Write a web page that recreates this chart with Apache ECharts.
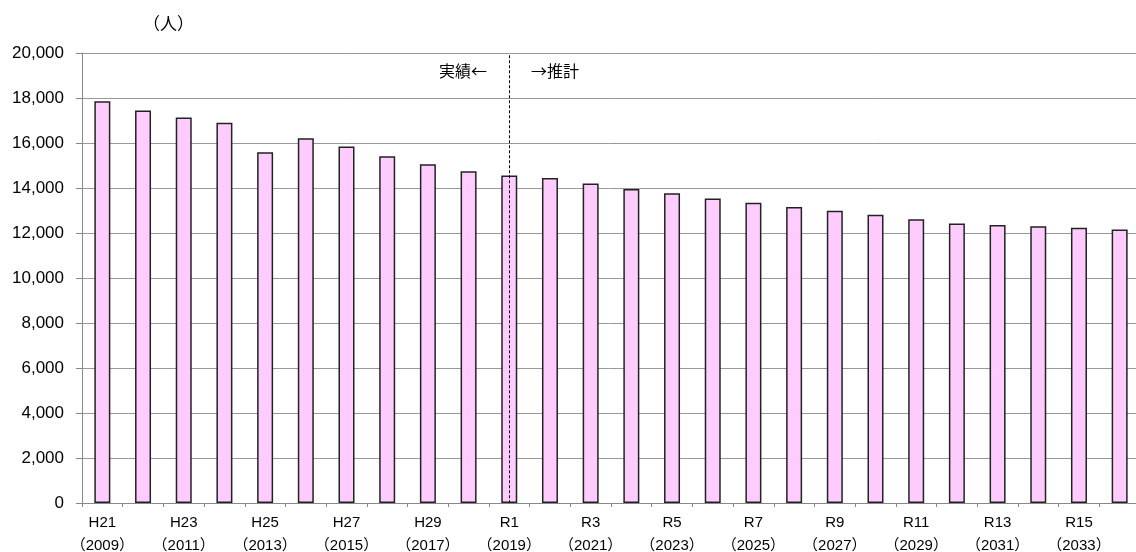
<!DOCTYPE html>
<html>
<head>
<meta charset="utf-8">
<script src="https://cdn.jsdelivr.net/npm/echarts@6/dist/echarts.min.js"></script>
<style>
  html, body { margin: 0; padding: 0; background: #fff; }
  #chart { width: 1136px; height: 552px; }
</style>
</head>
<body>
<div id="chart"></div>
<script>
// Era labels (Heisei / Reiwa) and Western years, one per bar
const eraLabels = ['H21','H22','H23','H24','H25','H26','H27','H28','H29','H30',
                   'R1','R2','R3','R4','R5','R6','R7','R8','R9','R10',
                   'R11','R12','R13','R14','R15','R16'];
const years = [2009,2010,2011,2012,2013,2014,2015,2016,2017,2018,
               2019,2020,2021,2022,2023,2024,2025,2026,2027,2028,
               2029,2030,2031,2032,2033,2034];
// Population (persons): actual up to 2019, projected afterwards
const population = [17860,17440,17130,16900,15590,16210,15840,15410,15060,14750,
                    14560,14450,14200,13960,13770,13530,13340,13160,12990,12810,
                    12610,12420,12360,12300,12230,12160];
// Y axis scale
const yMin = 0, yMax = 20000, yStep = 2000;
// Boundary between actual and projected values
const splitCategory = 'R1';
const unitLabel = '（人）';
const actualText = '実績←';
const projectedText = '→推計';

const categories = eraLabels.map((e, i) => e + '\n（' + years[i] + '）');
const splitCat = categories[eraLabels.indexOf(splitCategory)];

const FONT = '"Liberation Sans", "Noto Sans CJK JP", sans-serif';
const CJK = '"Noto Sans CJK JP", sans-serif';

const chart = echarts.init(document.getElementById('chart'), null, { renderer: 'canvas' });
chart.setOption({
  animation: false,
  backgroundColor: '#ffffff',
  title: {
    text: unitLabel,
    left: 138,
    top: 10,
    textStyle: { fontFamily: CJK, fontSize: 17, fontWeight: 'normal', color: '#000' }
  },
  // plot area runs slightly past the right edge of the canvas
  grid: { left: 82, top: 53, width: 1058, height: 450, containLabel: false, outerBoundsMode: 'none' },
  xAxis: {
    type: 'category',
    data: categories,
    boundaryGap: true,
    axisLine: { show: true, lineStyle: { color: '#888', width: 1 } },
    axisTick: { show: true, alignWithLabel: false, interval: 0, length: 4, lineStyle: { color: '#888' } },
    axisLabel: {
      interval: 1,
      margin: 8,
      fontFamily: FONT,
      fontSize: 15,
      lineHeight: 23,
      color: '#000'
    }
  },
  yAxis: {
    type: 'value',
    min: yMin,
    max: yMax,
    interval: yStep,
    axisLine: { show: true, lineStyle: { color: '#888', width: 1 } },
    axisTick: { show: true, length: 6, lineStyle: { color: '#888' } },
    axisLabel: {
      margin: 18,
      fontFamily: FONT,
      fontSize: 17,
      color: '#000',
      formatter: v => v.toLocaleString('en-US')
    },
    splitLine: { show: true, lineStyle: { color: '#999', width: 1 } }
  },
  series: [{
    type: 'bar',
    data: population,
    barWidth: 16,
    itemStyle: { color: '#FFCCFF', borderColor: '#222', borderWidth: 1.5 },
    markLine: {
      silent: true,
      symbol: 'none',
      label: { show: false },
      lineStyle: { type: [3, 2], color: '#000', width: 1 },
      data: [[{ xAxis: splitCat, yAxis: 19900 }, { xAxis: splitCat, yAxis: yMin }]]
    }
  }],
  graphic: [
    { type: 'text', left: 439, top: 63,
      style: { text: actualText, fontFamily: CJK, fontSize: 16, fill: '#000' } },
    { type: 'text', left: 531, top: 63,
      style: { text: projectedText, fontFamily: CJK, fontSize: 16, fill: '#000' } }
  ]
});
</script>
</body>
</html>
